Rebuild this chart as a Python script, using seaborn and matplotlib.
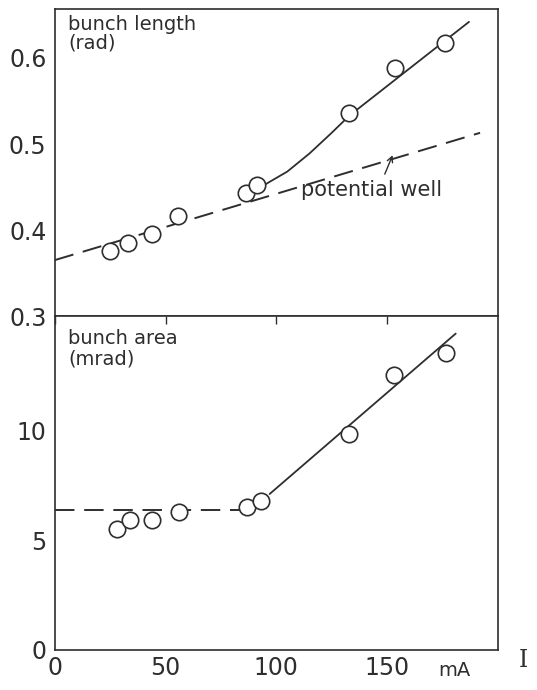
import numpy as np
import pandas as pd
import seaborn as sns
import matplotlib.pyplot as plt

# data
current_len = [25, 33, 44, 55.5, 86.5, 91.5, 133, 153.5, 176]
bunch_len = [0.376, 0.385, 0.395, 0.416, 0.443, 0.452, 0.536, 0.588, 0.617]
well_x = [0, 192]
well_y = [0.365, 0.513]
fit_len_x = [95, 105, 115, 125, 133, 187]
fit_len_y = [0.453, 0.468, 0.489, 0.513, 0.533, 0.642]

current_area = [28, 34, 44, 56, 87, 93, 133, 153, 176.5]
bunch_area = [5.5, 5.9, 5.9, 6.3, 6.5, 6.8, 9.85, 12.5, 13.5]
flat_x = [0, 87]
flat_y = [6.35, 6.35]
fit_area_x = [97, 181]
fit_area_y = [7.1, 14.4]

sns.set_style("white")
plt.rcParams['font.family'] = ['DejaVu Sans']
ink = '#2e2e2e'

fig = plt.figure(figsize=(5.37, 6.90), dpi=100)
ax1 = fig.add_axes([0.102, 0.542, 0.825, 0.445])
ax2 = fig.add_axes([0.102, 0.058, 0.825, 0.484])

df1 = pd.DataFrame({'I': current_len, 'L': bunch_len})
df2 = pd.DataFrame({'I': current_area, 'A': bunch_area})

# top panel
sns.lineplot(x=well_x, y=well_y, ax=ax1, color=ink, lw=1.4)
ax1.lines[-1].set_dashes([10, 5])
sns.lineplot(x=fit_len_x, y=fit_len_y, ax=ax1, color=ink, lw=1.3)
sns.scatterplot(data=df1, x='I', y='L', ax=ax1, s=140, facecolor='white',
                edgecolor=ink, linewidth=1.2, zorder=5)
ax1.set_xlim(0, 200)
ax1.set_ylim(0.3, 0.657)
ax1.set_yticks([0.3, 0.4, 0.5, 0.6])
ax1.set_yticklabels(['0.3', '0.4', '0.5', '0.6'])
ax1.set_xticks([])
ax1.set_xlabel('')
ax1.set_ylabel('')
ax1.text(6, 0.650, 'bunch length\n(rad)', fontsize=14, color=ink, va='top',
         linespacing=1.0)
ax1.text(111, 0.446, 'potential well', fontsize=15, color=ink, va='center')
ax1.annotate('', xy=(153, 0.49), xytext=(148.5, 0.462),
             arrowprops=dict(arrowstyle='->', color=ink, lw=1.0))

# bottom panel
sns.lineplot(x=flat_x, y=flat_y, ax=ax2, color=ink, lw=1.4)
ax2.lines[-1].set_dashes([10, 5])
sns.lineplot(x=fit_area_x, y=fit_area_y, ax=ax2, color=ink, lw=1.3)
sns.scatterplot(data=df2, x='I', y='A', ax=ax2, s=140, facecolor='white',
                edgecolor=ink, linewidth=1.2, zorder=5)
ax2.set_xlim(0, 200)
ax2.set_ylim(0, 15.2)
ax2.set_yticks([0, 5, 10])
ax2.set_xticks([0, 50, 100, 150])
ax2.set_xlabel('')
ax2.set_ylabel('')
ax2.text(6, 14.6, 'bunch area\n(mrad)', fontsize=14, color=ink, va='top',
         linespacing=1.1)
ax2.text(173, -0.5, 'mA', fontsize=14, color=ink, va='top', ha='left')
fig.text(0.975, 0.043, 'I', fontsize=17, color=ink, family='DejaVu Serif',
         ha='center', va='center')

for ax in (ax1, ax2):
    for sp in ax.spines.values():
        sp.set_color(ink)
        sp.set_linewidth(1.2)
    ax.tick_params(axis='y', direction='out', length=5, width=1, colors=ink,
                   labelsize=17, pad=1)
    ax.tick_params(axis='x', direction='in', length=6, width=1, colors=ink,
                   labelsize=17, pad=4, top=True)

fig.savefig('out.png', dpi=100, facecolor='white')
